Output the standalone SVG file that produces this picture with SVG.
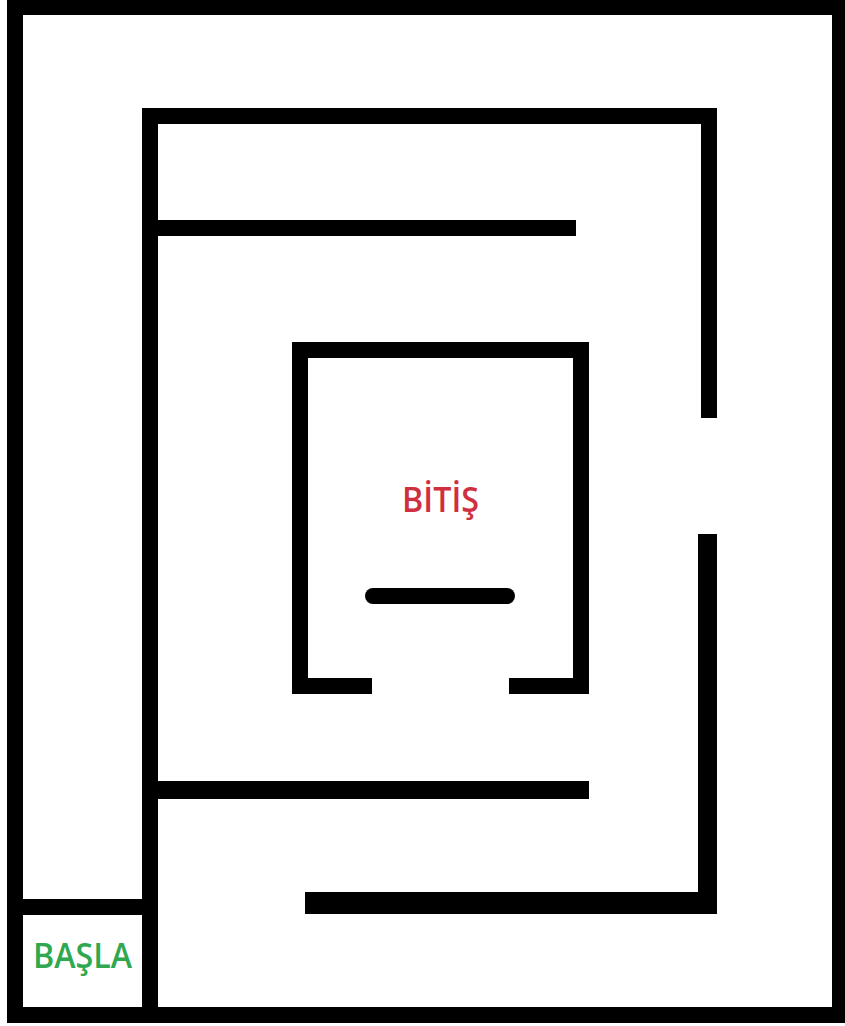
<svg xmlns="http://www.w3.org/2000/svg" width="845" height="1026" viewBox="0 0 845 1026">
  <style>
    .wall { fill: #000000; }
    .lbl { font-family: "Open Sans", "Liberation Sans", sans-serif; font-weight: 600; }
  </style>
  <rect x="0" y="0" width="845" height="1026" fill="#ffffff"/>
  <g id="outer-walls">
    <rect class="wall" x="7" y="0" width="838" height="15"/>
    <rect class="wall" x="7" y="0" width="16" height="1023"/>
    <rect class="wall" x="832" y="0" width="13" height="1023"/>
    <rect class="wall" x="7" y="1007" width="838" height="16"/>
  </g>
  <g id="start-box">
    <rect class="wall" x="7" y="899" width="151" height="16"/>
    <text class="lbl" x="33" y="968" font-size="34" fill="#2fa84f" textLength="99" lengthAdjust="spacingAndGlyphs">BAŞLA</text>
  </g>
  <g id="middle-walls">
    <rect class="wall" x="142" y="108" width="16" height="915"/>
    <rect class="wall" x="142" y="108" width="575" height="16"/>
    <rect class="wall" x="701" y="108" width="16" height="310"/>
    <rect class="wall" x="142" y="220" width="434" height="16"/>
    <rect class="wall" x="142" y="781" width="447" height="18"/>
    <rect class="wall" x="698" y="534" width="19" height="380"/>
    <rect class="wall" x="305" y="892" width="412" height="22"/>
  </g>
  <g id="finish-box">
    <rect class="wall" x="292" y="342" width="297" height="16"/>
    <rect class="wall" x="292" y="342" width="16" height="352"/>
    <rect class="wall" x="573" y="342" width="16" height="352"/>
    <rect class="wall" x="292" y="678" width="80" height="16"/>
    <rect class="wall" x="509" y="678" width="80" height="16"/>
    <line x1="373" y1="596" x2="507" y2="596" stroke="#000000" stroke-width="16" stroke-linecap="round"/>
    <text class="lbl" x="402" y="512" font-size="34" fill="#cf2f3e" textLength="77" lengthAdjust="spacingAndGlyphs">BİTİŞ</text>
  </g>
</svg>
